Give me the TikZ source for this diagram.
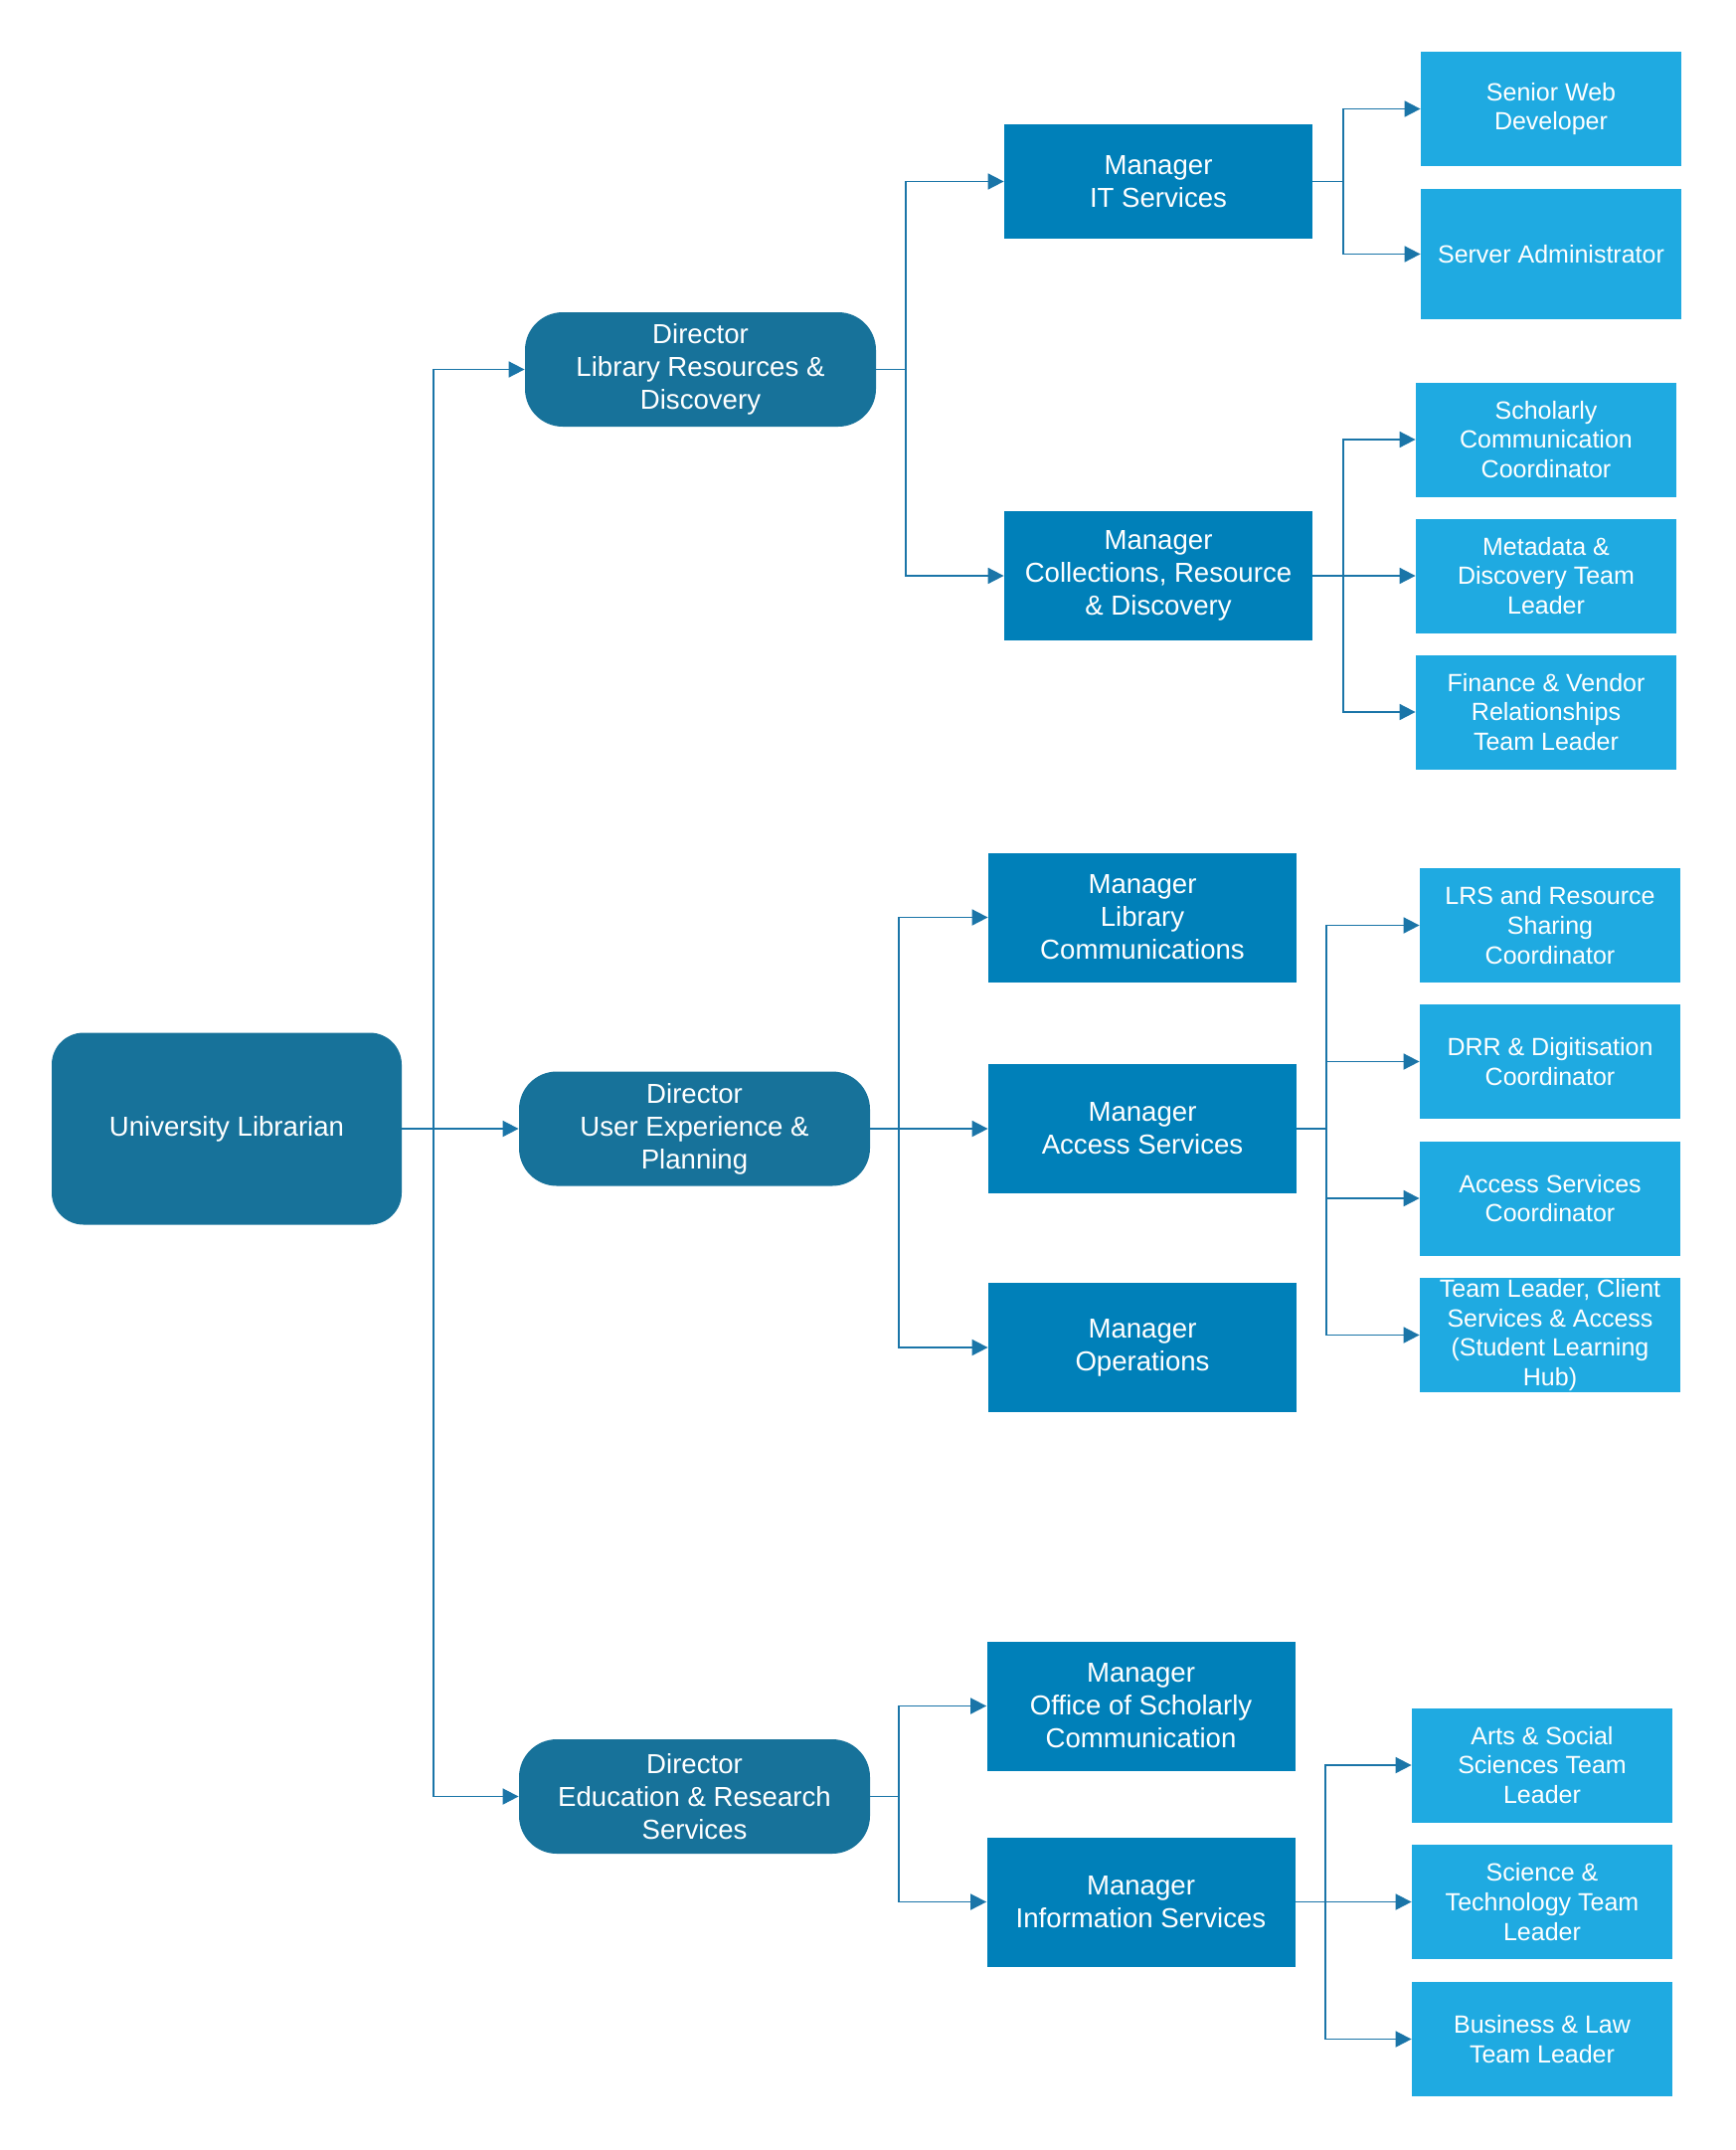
\documentclass[tikz,border=0pt]{standalone}
\usepackage{fontspec}
\setmainfont{Liberation Sans}
\usetikzlibrary{arrows.meta}
\definecolor{dircol}{HTML}{17729A}
\definecolor{mgrcol}{HTML}{0080B9}
\definecolor{stfcol}{HTML}{1FAAE1}
\definecolor{lncol}{HTML}{1A75A8}
\begin{document}
\begin{tikzpicture}[x=0.5pt,y=-0.5pt,
  bigtxt/.style={font=\fontsize{13.8}{16.5}\selectfont},
  smalltxt/.style={font=\fontsize{12.5}{14.8}\selectfont},
  univbox/.style={fill=dircol,text=white,rounded corners=16pt,minimum width=176pt,minimum height=96.5pt,inner sep=0pt,align=center,bigtxt},
  dirbox/.style={fill=dircol,text=white,rounded corners=19pt,minimum width=176.5pt,minimum height=57.5pt,inner sep=0pt,align=center,bigtxt},
  mgrbox/.style={fill=mgrcol,text=white,minimum width=155pt,minimum height=65pt,inner sep=0pt,align=center,bigtxt},
  stfbox/.style={fill=stfcol,text=white,minimum width=131pt,minimum height=57.5pt,inner sep=0pt,align=center,smalltxt},
  arr/.style={draw=lncol,line width=0.9pt,-{Triangle[length=8pt,width=8pt]}}
]
\useasboundingbox (0,0) rectangle (1745,2162);
% top level
\node[univbox] (univ) at (228,1135) {University Librarian};
% directors
\node[dirbox] (d1) at (704.5,371.5) {Director\\Library Resources \&\\Discovery};
\node[dirbox] (d2) at (698.5,1135) {Director\\User Experience \&\\Planning};
\node[dirbox] (d3) at (698.5,1806.5) {Director\\Education \& Research\\Services};
% managers
\node[mgrbox,minimum height=57.5pt] (mit) at (1165,182.5) {Manager\\IT Services};
\node[mgrbox] (mcoll) at (1165,579) {Manager\\Collections, Resource\\\& Discovery};
\node[mgrbox] (mlc) at (1149,922.5) {Manager\\Library\\Communications};
\node[mgrbox] (macc) at (1149,1135) {Manager\\Access Services};
\node[mgrbox] (mops) at (1149,1355) {Manager\\Operations};
\node[mgrbox] (mosc) at (1147.5,1715.5) {Manager\\Office of Scholarly\\Communication};
\node[mgrbox] (minf) at (1147.5,1912.5) {Manager\\Information Services};
% staff
\node[stfbox] (sweb) at (1560,109.5) {Senior Web\\Developer};
\node[stfbox,minimum height=65.5pt] (sadm) at (1560,255.5) {Server Administrator};
\node[stfbox] (sschol) at (1555,442) {Scholarly\\Communication\\Coordinator};
\node[stfbox] (smeta) at (1555,579) {Metadata \&\\Discovery Team\\Leader};
\node[stfbox] (sfin) at (1555,716) {Finance \& Vendor\\Relationships\\Team Leader};
\node[stfbox] (slrs) at (1559,930.5) {LRS and Resource\\Sharing\\Coordinator};
\node[stfbox] (sdrr) at (1559,1067.5) {DRR \& Digitisation\\Coordinator};
\node[stfbox] (sacc) at (1559,1205) {Access Services\\Coordinator};
\node[stfbox] (stl) at (1559,1342.5) {Team Leader, Client\\Services \& Access\\(Student Learning\\Hub)};
\node[stfbox] (sarts) at (1551,1775) {Arts \& Social\\Sciences Team\\Leader};
\node[stfbox] (ssci) at (1551,1912.5) {Science \&\\Technology Team\\Leader};
\node[stfbox] (sbus) at (1551,2050.5) {Business \& Law\\Team Leader};
% trunk coordinates
\coordinate (t0) at (436,0);
\coordinate (t1) at (911,0);
\coordinate (t2) at (1351,0);
\coordinate (t3) at (904,0);
\coordinate (t4) at (1334,0);
\coordinate (t5) at (1333,0);
% University Librarian -> directors
\draw[arr] (univ.east) -- (univ.east -| t0) |- (d1.west);
\draw[arr] (univ.east) -- (d2.west);
\draw[arr] (univ.east) -- (univ.east -| t0) |- (d3.west);
% D1 -> managers
\draw[arr] (d1.east) -- (d1.east -| t1) |- (mit.west);
\draw[arr] (d1.east) -- (d1.east -| t1) |- (mcoll.west);
% IT -> staff
\draw[arr] (mit.east) -- (mit.east -| t2) |- (sweb.west);
\draw[arr] (mit.east) -- (mit.east -| t2) |- (sadm.west);
% Collections -> staff
\draw[arr] (mcoll.east) -- (mcoll.east -| t2) |- (sschol.west);
\draw[arr] (mcoll.east) -- (smeta.west);
\draw[arr] (mcoll.east) -- (mcoll.east -| t2) |- (sfin.west);
% D2 -> managers
\draw[arr] (d2.east) -- (d2.east -| t3) |- (mlc.west);
\draw[arr] (d2.east) -- (macc.west);
\draw[arr] (d2.east) -- (d2.east -| t3) |- (mops.west);
% Access -> staff
\draw[arr] (macc.east) -- (macc.east -| t4) |- (slrs.west);
\draw[arr] (macc.east) -- (macc.east -| t4) |- (sdrr.west);
\draw[arr] (macc.east) -- (macc.east -| t4) |- (sacc.west);
\draw[arr] (macc.east) -- (macc.east -| t4) |- (stl.west);
% D3 -> managers
\draw[arr] (d3.east) -- (d3.east -| t3) |- (mosc.west);
\draw[arr] (d3.east) -- (d3.east -| t3) |- (minf.west);
% Information Services -> staff
\draw[arr] (minf.east) -- (minf.east -| t5) |- (sarts.west);
\draw[arr] (minf.east) -- (ssci.west);
\draw[arr] (minf.east) -- (minf.east -| t5) |- (sbus.west);
\end{tikzpicture}
\end{document}
